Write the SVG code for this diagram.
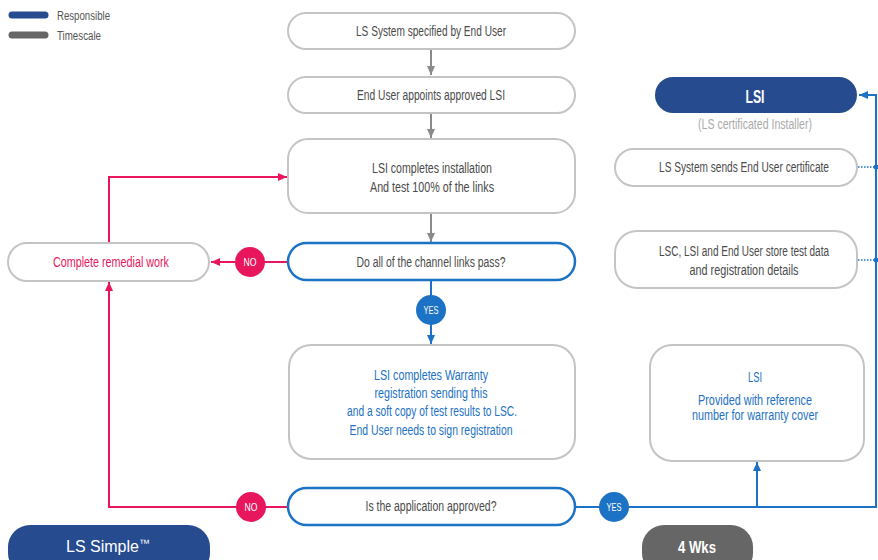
<svg xmlns="http://www.w3.org/2000/svg" width="878" height="560" viewBox="0 0 878 560">
<defs>
<marker id="ag" markerWidth="10" markerHeight="10" refX="9" refY="5" orient="auto" markerUnits="userSpaceOnUse"><path d="M0,1 L9,5 L0,9 Z" fill="#8a8a8a"/></marker>
<marker id="ar" markerWidth="10" markerHeight="10" refX="9" refY="5" orient="auto" markerUnits="userSpaceOnUse"><path d="M0,1 L9,5 L0,9 Z" fill="#e8175d"/></marker>
<marker id="ab" markerWidth="10" markerHeight="10" refX="9" refY="5" orient="auto" markerUnits="userSpaceOnUse"><path d="M0,1 L9,5 L0,9 Z" fill="#1c72c4"/></marker>
</defs>
<style>
text{font-family:"Liberation Sans",Arial,sans-serif;}
.t{font-size:14px;fill:#4a4a4a;text-anchor:middle;}
.bt{font-size:14px;fill:#1c72c4;text-anchor:middle;}
.rt{font-size:14px;fill:#e8175d;text-anchor:middle;}
.box{fill:#fff;stroke:#c4c4c4;stroke-width:2;}
.dec{fill:#fff;stroke:#1c72c4;stroke-width:2.5;}
.bad{font-size:11px;fill:#fff;text-anchor:middle;}
.lg{font-size:12.5px;fill:#555;}
</style>
<rect width="878" height="560" fill="#fff"/>

<g id="legend">
<line x1="12" y1="15" x2="45" y2="15" stroke="#264b8f" stroke-width="7" stroke-linecap="round"/>
<line x1="12" y1="35" x2="45" y2="35" stroke="#666" stroke-width="7" stroke-linecap="round"/>
<text class="lg" x="57" y="20" textLength="53" lengthAdjust="spacingAndGlyphs">Responsible</text>
<text class="lg" x="57" y="40" textLength="44" lengthAdjust="spacingAndGlyphs">Timescale</text>
</g>

<g id="connectors" fill="none">
<line x1="431" y1="49" x2="431" y2="75" stroke="#8a8a8a" stroke-width="2" marker-end="url(#ag)"/>
<line x1="431" y1="113" x2="431" y2="138" stroke="#8a8a8a" stroke-width="2" marker-end="url(#ag)"/>
<line x1="431" y1="213" x2="431" y2="242" stroke="#8a8a8a" stroke-width="2" marker-end="url(#ag)"/>
<line x1="288" y1="262" x2="211" y2="262" stroke="#e8175d" stroke-width="2" marker-end="url(#ar)"/>
<polyline points="109,243 109,177 287,177" stroke="#e8175d" stroke-width="2" marker-end="url(#ar)"/>
<polyline points="288,507 109,507 109,282" stroke="#e8175d" stroke-width="2" marker-end="url(#ar)"/>
<line x1="431" y1="280" x2="431" y2="344" stroke="#1c72c4" stroke-width="2" marker-end="url(#ab)"/>
<polyline points="575,507 876,507 876,95 859,95" stroke="#1c72c4" stroke-width="2" marker-end="url(#ab)"/>
<line x1="757" y1="507" x2="757" y2="462" stroke="#1c72c4" stroke-width="2" marker-end="url(#ab)"/>
<line x1="858" y1="167" x2="876" y2="167" stroke="#1c72c4" stroke-width="1.5" stroke-dasharray="1.5,1.5"/>
<circle cx="876" cy="167" r="2.5" fill="#1c72c4"/>
<line x1="858" y1="260" x2="876" y2="260" stroke="#1c72c4" stroke-width="1.5" stroke-dasharray="1.5,1.5"/>
<circle cx="876" cy="260" r="2.5" fill="#1c72c4"/>
</g>

<g id="n1"><rect class="box" x="288" y="13" width="287" height="36" rx="18"/>
<text class="t" x="431" y="36" textLength="150" lengthAdjust="spacingAndGlyphs">LS System specified by End User</text></g>

<g id="n2"><rect class="box" x="288" y="77" width="287" height="36" rx="18"/>
<text class="t" x="431" y="100" textLength="148" lengthAdjust="spacingAndGlyphs">End User appoints approved LSI</text></g>

<g id="n3"><rect class="box" x="288" y="139" width="287" height="74" rx="20"/>
<text class="t" x="432" y="173" textLength="120" lengthAdjust="spacingAndGlyphs">LSI completes installation</text>
<text class="t" x="432" y="192" textLength="124" lengthAdjust="spacingAndGlyphs">And test 100% of the links</text></g>

<g id="d1"><rect class="dec" x="288" y="243" width="287" height="37" rx="18.5"/>
<text class="t" x="431" y="267" textLength="149" lengthAdjust="spacingAndGlyphs">Do all of the channel links pass?</text></g>

<g id="no1"><circle cx="250" cy="262" r="15" fill="#e8175d"/>
<text class="bad" x="250" y="266" textLength="13" lengthAdjust="spacingAndGlyphs">NO</text></g>

<g id="remedial"><rect class="box" x="8" y="243" width="201" height="38" rx="19"/>
<text class="rt" x="111" y="267" textLength="116" lengthAdjust="spacingAndGlyphs">Complete remedial work</text></g>

<g id="yes1"><circle cx="431" cy="310" r="15" fill="#1c72c4"/>
<text class="bad" x="431" y="314" textLength="15" lengthAdjust="spacingAndGlyphs">YES</text></g>

<g id="warranty"><rect class="box" x="289" y="345" width="286" height="114" rx="22"/>
<text class="bt" x="431" y="380" textLength="114" lengthAdjust="spacingAndGlyphs">LSI completes Warranty</text>
<text class="bt" x="431" y="398" textLength="113" lengthAdjust="spacingAndGlyphs">registration sending this</text>
<text class="bt" x="432" y="416" textLength="170" lengthAdjust="spacingAndGlyphs">and a soft copy of test results to LSC.</text>
<text class="bt" x="431" y="435" textLength="163" lengthAdjust="spacingAndGlyphs">End User needs to sign registration</text></g>

<g id="d2"><rect class="dec" x="288" y="488" width="287" height="37" rx="18.5"/>
<text class="t" x="431" y="511" textLength="131" lengthAdjust="spacingAndGlyphs">Is the application approved?</text></g>

<g id="no2"><circle cx="251" cy="507" r="15" fill="#e8175d"/>
<text class="bad" x="251" y="511" textLength="13" lengthAdjust="spacingAndGlyphs">NO</text></g>

<g id="yes2"><circle cx="614" cy="507" r="15" fill="#1c72c4"/>
<text class="bad" x="614" y="511" textLength="15" lengthAdjust="spacingAndGlyphs">YES</text></g>

<g id="lsi"><rect x="655" y="77" width="202" height="36" rx="18" fill="#264b8f"/>
<text x="755" y="103" font-size="18" font-weight="bold" fill="#fff" text-anchor="middle" textLength="19" lengthAdjust="spacingAndGlyphs">LSI</text>
<text x="755" y="129" font-size="14" fill="#aaa" text-anchor="middle" textLength="114" lengthAdjust="spacingAndGlyphs">(LS certificated Installer)</text></g>

<g id="cert"><rect class="box" x="615" y="149" width="242" height="37" rx="18.5"/>
<text class="t" x="744" y="172" textLength="170" lengthAdjust="spacingAndGlyphs">LS System sends End User certificate</text></g>

<g id="store"><rect class="box" x="615" y="231" width="242" height="57" rx="22"/>
<text class="t" x="744" y="256" textLength="170" lengthAdjust="spacingAndGlyphs">LSC, LSI and End User store test data</text>
<text class="t" x="744" y="275" textLength="109" lengthAdjust="spacingAndGlyphs">and registration details</text></g>

<g id="lsibox"><rect class="box" x="650" y="345" width="214" height="116" rx="22"/>
<text class="bt" x="755" y="382" textLength="14" lengthAdjust="spacingAndGlyphs">LSI</text>
<text class="bt" x="755" y="405" font-size="12.5" textLength="114" lengthAdjust="spacingAndGlyphs">Provided with reference</text>
<text class="bt" x="755" y="420" font-size="12.5" textLength="126" lengthAdjust="spacingAndGlyphs">number for warranty cover</text></g>

<g id="lssimple"><rect x="8" y="525" width="202" height="50" rx="22" fill="#264b8f"/>
<text x="66" y="552" font-size="16" fill="#fff">LS Simple<tspan font-size="11" dy="-5">™</tspan></text></g>

<g id="wks"><rect x="642" y="525" width="111" height="50" rx="22" fill="#666"/>
<text x="697" y="553" font-size="17" font-weight="bold" fill="#fff" text-anchor="middle" textLength="38" lengthAdjust="spacingAndGlyphs">4 Wks</text></g>
</svg>
